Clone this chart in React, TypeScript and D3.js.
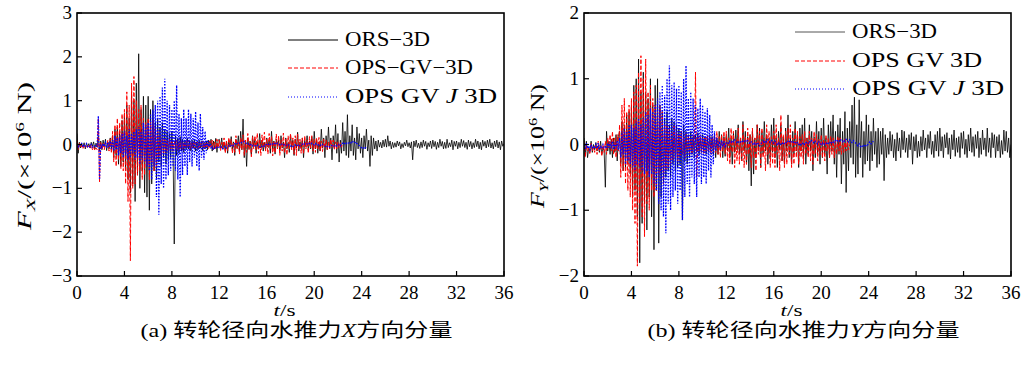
import * as d3 from "d3";

// time step of all series (s)
const dt = 0.1;

const xTicks = [0, 4, 8, 12, 16, 20, 24, 28, 32, 36];
const fxTicks = [3, 2, 1, 0, -1, -2, -3];
const fyTicks = [2, 1, 0, -1, -2];

// ---------- (a) Fx, ×10^6 N ----------
const fxORS = [
  0.25,-0.2,0.05,-0.08,0.02,-0.06,0.04,-0.1,0.03,-0.05,
  0.02,-0.08,0.05,-0.04,0.06,-0.1,0.03,-0.06,0.2,-0.15,
  0.08,-0.12,0.1,-0.05,0.12,-0.14,0.06,-0.1,0.15,-0.12,
  0.2,-0.3,0.35,-0.25,0.4,-0.45,0.3,-0.5,0.55,-0.4,
  0.7,-0.6,0.9,-0.8,0.6,-1.1,1.2,-0.9,1.0,-1.3,
  1.4,-0.7,2.07,-1.0,0.8,-0.6,1.1,-1.1,0.9,-1.2,
  1.1,-1.5,0.8,-0.9,1.0,-0.6,0.5,-0.8,0.6,-0.4,
  0.4,-0.5,0.5,-0.3,0.35,-0.45,0.3,-0.35,0.25,-0.3,
  0.3,-0.2,-2.27,0.2,-0.25,0.15,-0.2,0.18,-0.15,0.12,
  -0.18,0.1,-0.12,0.15,-0.1,0.08,-0.15,0.1,-0.08,0.12,
  -0.15,0.06,-0.12,0.1,-0.08,0.07,-0.14,0.05,-0.1,0.08,
  -0.12,0.1,-0.06,0.12,-0.15,0.08,-0.1,0.14,-0.18,0.1,
  0.12,-0.08,0.15,-0.1,0.05,-0.14,0.08,-0.2,0.1,-0.06,
  0.18,-0.1,0.06,-0.25,0.12,-0.08,0.2,-0.15,0.3,-0.12,
  0.58,-0.3,0.1,-0.5,0.15,-0.1,0.08,-0.25,0.2,-0.05,
  0.12,-0.2,0.06,-0.1,0.25,-0.08,0.1,-0.15,0.05,-0.12,
  0.15,-0.06,0.1,-0.2,0.3,-0.1,0.08,-0.22,0.12,-0.04,
  0.1,-0.15,0.2,-0.08,0.06,-0.3,0.15,-0.1,0.05,-0.18,
  0.22,-0.06,0.1,-0.25,0.12,-0.08,0.28,-0.15,0.06,-0.1,
  0.15,-0.3,0.1,-0.05,0.2,-0.12,0.08,-0.1,0.18,-0.22,
  0.3,-0.1,0.12,-0.2,0.06,-0.15,0.35,-0.08,0.15,-0.3,
  0.2,-0.12,0.4,-0.1,0.15,-0.35,0.2,-0.1,0.45,-0.2,
  0.25,-0.4,0.1,-0.2,0.5,-0.15,0.3,-0.25,0.68,-0.3,
  0.2,-0.15,0.45,-0.25,0.15,-0.35,0.4,-0.1,0.25,-0.2,
  0.15,-0.3,0.2,-0.1,0.35,-0.15,0.1,-0.5,0.2,-0.25,
  0.15,-0.1,0.08,-0.15,0.1,-0.06,0.05,-0.08,0.1,-0.05,
  0.12,-0.06,0.2,-0.04,0.08,-0.1,0.05,-0.07,0.04,-0.06,
  0.08,-0.03,0.06,-0.1,0.02,-0.07,0.05,-0.03,0.1,-0.05,
  0.04,-0.08,0.06,-0.35,0.08,-0.05,0.1,-0.07,0.03,-0.09,
  0.06,-0.07,0.1,-0.04,0.07,-0.11,0.04,-0.05,0.08,-0.09,
  0.1,-0.05,0.07,-0.11,0.05,-0.07,0.12,-0.04,0.07,-0.1,
  0.05,-0.09,0.12,-0.07,0.04,-0.05,0.1,-0.12,0.07,-0.04,
  0.08,-0.1,0.05,-0.07,0.12,-0.04,0.09,-0.07,0.05,-0.11,
  0.1,-0.05,0.07,-0.1,0.04,-0.07,0.12,-0.05,0.08,-0.1,
  0.05,-0.12,0.1,-0.04,0.07,-0.08,0.1,-0.05,0.12,-0.08,
  0.04,-0.1,0.08,-0.05,0.1,-0.08,0.06,-0.12,0.08,-0.04,0.02,
];

const fxOPSGV = [
  0.1,-0.12,0.05,-0.08,-0.02,-0.1,0.0,-0.06,-0.04,-0.08,
  -0.02,-0.1,0.0,-0.12,-0.05,-0.14,-0.08,-0.12,0.6,-0.85,
  0.05,-0.1,0.02,-0.12,0.05,-0.08,0.1,-0.15,0.12,-0.2,
  0.3,-0.4,0.45,-0.5,0.6,-0.35,0.5,-0.55,0.7,-0.6,
  0.8,-0.9,1.2,-1.3,0.9,-2.65,1.4,-1.0,1.55,-0.9,
  1.0,-0.7,0.8,-0.6,0.9,-0.8,0.6,-0.7,0.5,-0.5,
  0.6,-0.8,0.5,-0.4,0.55,-0.6,0.4,-0.5,0.3,-0.3,
  0.2,-0.25,0.15,-0.2,0.12,-0.18,0.1,-0.15,0.12,-0.1,
  0.1,-0.15,0.08,-0.12,0.1,-0.14,0.06,-0.1,0.08,-0.12,
  0.05,-0.1,0.08,-0.06,0.1,-0.12,0.04,-0.08,0.06,-0.1,
  0.05,-0.08,0.06,-0.1,0.04,-0.06,0.08,-0.1,0.05,-0.07,
  0.06,-0.1,0.08,-0.06,0.1,-0.12,0.06,-0.1,0.12,-0.08,
  0.1,-0.15,0.05,-0.1,0.15,-0.2,0.08,-0.14,0.16,-0.05,
  0.12,-0.2,0.05,-0.18,0.2,-0.1,0.08,-0.22,0.15,-0.12,
  0.22,-0.25,0.1,-0.18,0.25,-0.12,0.08,-0.28,0.18,-0.1,
  0.2,-0.12,0.26,-0.2,0.1,-0.25,0.22,-0.08,0.28,-0.15,
  0.12,-0.22,0.25,-0.1,0.18,-0.26,0.08,-0.2,0.24,-0.1,
  0.2,-0.25,0.1,-0.15,0.26,-0.2,0.12,-0.24,0.2,-0.1,
  0.25,-0.12,0.15,-0.22,0.2,-0.25,0.24,-0.1,0.12,-0.2,
  0.15,-0.22,0.2,-0.1,0.1,-0.2,0.18,-0.08,0.2,-0.15,
  0.12,-0.18,0.15,-0.1,0.16,-0.15,0.08,-0.16,0.12,-0.08,
  0.1,-0.12,0.06,-0.1,0.12,-0.06,0.1,-0.12,0.06,-0.1,
  0.06,-0.08,0.04,-0.06,0.03,
];

const fxOPSGVJ = [
  0.02,-0.05,0.0,-0.03,0.02,-0.06,0.0,-0.04,0.02,-0.05,
  -0.02,-0.05,0.0,-0.06,-0.02,-0.05,-0.03,-0.04,0.65,-0.8,
  0.0,-0.06,0.02,-0.05,0.04,-0.08,0.05,-0.06,0.08,-0.1,
  0.1,-0.15,0.2,-0.12,0.15,-0.25,0.2,-0.2,0.25,-0.3,
  0.3,-0.25,0.2,-0.35,0.35,-0.3,0.25,-0.2,0.3,-0.35,
  0.35,-0.3,0.4,-0.45,0.3,-0.35,0.5,-0.4,0.45,-0.5,
  0.5,-0.6,0.7,-0.8,0.8,-0.5,0.9,-1.2,1.0,-1.6,
  1.1,-0.9,1.3,-1.0,1.5,-0.8,1.0,-0.7,0.9,-0.6,
  0.8,-0.5,1.0,-0.6,1.35,-0.8,0.7,-1.2,0.6,-0.7,
  0.8,-0.5,0.6,-0.7,0.8,-0.4,0.7,-0.5,0.6,-0.3,
  0.75,-0.5,0.5,-0.6,0.7,-0.3,0.4,-0.35,0.3,-0.2,
  0.1,-0.05,0.05,-0.1,-0.05,-0.12,-0.08,-0.1,-0.06,-0.08,
  -0.06,-0.08,-0.05,-0.1,-0.07,-0.04,-0.08,-0.06,-0.03,-0.05,
  -0.02,0.0,-0.03,0.02,0.04,0.02,0.05,0.03,0.06,0.04,
  0.05,0.07,0.04,0.02,0.03,0.0,-0.02,0.01,-0.03,-0.01,
  -0.03,-0.05,-0.02,-0.04,-0.06,-0.03,-0.05,-0.02,-0.04,-0.01,
  0.0,-0.02,0.02,0.0,0.03,0.01,0.04,0.02,0.0,0.03,
  0.01,-0.01,0.02,0.0,-0.02,0.01,-0.01,-0.03,0.0,-0.02,
  -0.04,-0.02,-0.05,-0.03,-0.01,-0.04,-0.02,0.0,-0.03,-0.01,
  0.01,-0.01,0.02,0.03,0.01,0.04,0.02,0.0,0.03,0.01,
  -0.01,0.02,0.0,-0.02,0.01,-0.01,-0.03,0.0,-0.02,-0.04,
  -0.02,-0.05,-0.03,-0.06,-0.04,-0.02,-0.05,-0.03,-0.01,-0.04,
  -0.02,0.0,-0.03,0.01,0.03,0.0,0.04,0.02,0.05,0.03,
  0.06,0.04,0.08,0.05,0.03,0.06,0.02,0.0,-0.03,-0.05,
  -0.08,-0.1,-0.06,-0.08,-0.05,
];

// ---------- (b) Fy, ×10^6 N ----------
const fyORS = [
  0.1,-0.15,0.05,-0.2,-0.05,-0.1,0.05,-0.12,0.0,-0.08,
  0.03,-0.1,-0.02,-0.12,0.05,-0.15,-0.05,-0.1,-0.65,0.2,
  -0.1,0.05,-0.15,0.08,-0.2,0.1,-0.12,0.15,-0.25,0.12,
  0.2,-0.3,0.35,-0.4,0.3,-0.35,0.45,-0.3,0.5,-0.45,
  0.6,-0.8,0.9,-0.7,1.0,-1.1,1.3,-1.8,0.8,-1.2,
  1.1,-0.9,0.8,-1.3,0.7,-0.8,1.0,-1.1,0.6,-1.6,
  0.9,-0.7,1.0,-1.5,0.6,-0.8,0.5,-0.6,0.4,-0.5,
  0.5,-0.4,0.3,-0.5,0.4,-0.3,0.35,-0.4,0.3,-0.35,
  0.25,-0.3,0.2,-1.15,0.3,-0.25,0.2,-0.3,0.15,-0.2,
  0.2,-0.15,0.12,-0.2,0.15,-0.1,0.18,-0.15,0.1,-0.12,
  0.15,-0.1,0.12,-0.15,0.1,-0.12,0.14,-0.08,0.12,-0.15,
  0.15,-0.2,0.1,-0.15,0.2,-0.1,0.15,-0.2,0.12,-0.18,
  0.15,-0.1,0.25,-0.2,0.1,-0.3,0.18,-0.12,0.22,-0.08,
  0.3,-0.15,0.1,-0.25,0.35,-0.1,0.2,-0.3,0.12,-0.4,
  0.15,-0.63,0.2,-0.45,0.1,-0.2,0.3,-0.1,0.25,-0.35,
  0.2,-0.15,0.35,-0.1,0.15,-0.3,0.1,-0.2,0.3,-0.12,
  0.4,-0.2,0.1,-0.35,0.2,-0.08,0.3,-0.25,0.12,-0.3,
  0.25,-0.1,0.45,-0.2,0.1,-0.3,0.2,-0.15,0.35,-0.1,
  0.15,-0.35,0.25,-0.1,0.3,-0.2,0.4,-0.3,0.1,-0.15,
  0.3,-0.1,0.2,-0.4,0.12,-0.2,0.35,-0.15,0.2,-0.3,
  0.25,-0.2,0.4,-0.15,0.1,-0.45,0.3,-0.2,0.35,-0.1,
  0.45,-0.3,0.2,-0.5,0.3,-0.15,0.4,-0.6,0.2,-0.3,
  0.5,-0.73,0.25,-0.4,0.35,-0.2,0.6,-0.3,0.72,-0.5,
  0.3,-0.45,0.68,-0.2,0.35,-0.5,0.2,-0.3,0.45,-0.25,
  0.3,-0.4,0.2,-0.25,0.4,-0.15,0.2,-0.35,0.25,-0.3,
  0.2,-0.15,0.25,-0.55,0.15,-0.2,0.1,-0.15,0.2,-0.1,
  0.15,-0.2,0.08,-0.25,0.18,-0.1,0.1,-0.2,0.22,-0.08,
  0.2,-0.12,0.1,-0.2,0.15,-0.08,0.18,-0.3,0.12,-0.1,
  0.15,-0.2,0.05,-0.18,0.12,-0.1,0.22,-0.08,0.1,-0.2,
  0.15,-0.06,0.2,-0.15,0.05,-0.2,0.15,-0.1,0.2,-0.18,
  0.25,-0.1,0.12,-0.2,0.15,-0.05,0.18,-0.15,0.1,-0.22,
  0.15,-0.08,0.22,-0.18,0.1,-0.12,0.12,-0.2,0.18,-0.06,
  0.2,-0.15,0.08,-0.2,0.15,-0.1,0.25,-0.12,0.12,-0.18,
  0.15,-0.06,0.2,-0.2,0.1,-0.15,0.22,-0.08,0.1,-0.18,
  0.25,-0.12,0.1,-0.2,0.18,-0.05,0.15,-0.2,0.12,-0.1,
  0.15,-0.2,0.06,-0.15,0.22,-0.1,0.2,-0.12,0.1,-0.2,0.0,
];

const fyOPSGV = [
  0.05,-0.2,0.0,-0.1,-0.05,-0.15,0.02,-0.1,-0.05,-0.12,
  0.0,-0.15,0.05,-0.1,-0.02,-0.18,0.0,-0.12,0.05,-0.15,
  0.1,-0.05,0.15,-0.1,0.2,-0.15,0.1,-0.2,0.15,-0.1,
  0.3,-0.5,0.6,-0.4,0.7,-0.6,0.5,-0.7,0.6,-0.8,
  0.7,-1.0,0.8,-1.2,0.9,-1.85,1.1,-0.9,1.35,-1.1,
  1.0,-1.4,1.3,-0.9,0.8,-1.0,0.9,-0.7,0.7,-0.8,
  0.6,-0.7,0.5,-0.5,0.6,-0.4,0.5,-0.6,0.3,-0.4,
  0.3,-0.35,0.25,-0.3,0.2,-0.25,0.3,-0.2,0.2,-0.25,
  0.15,-0.2,0.2,-0.15,0.12,-0.2,0.15,-0.1,0.12,-0.15,
  0.1,-0.15,0.15,-0.1,1.1,-0.5,0.12,-0.1,0.15,-0.12,
  0.1,-0.15,0.12,-0.1,0.15,-0.12,0.1,-0.15,0.12,-0.1,
  0.15,-0.12,0.2,-0.15,0.12,-0.2,0.15,-0.1,0.2,-0.15,
  0.2,-0.25,0.1,-0.3,0.25,-0.12,0.2,-0.35,0.08,-0.25,
  0.25,-0.3,0.1,-0.25,0.3,-0.35,0.12,-0.3,0.25,-0.15,
  0.15,-0.35,0.25,-0.2,0.1,-0.4,0.3,-0.15,0.2,-0.35,
  0.25,-0.2,0.1,-0.4,0.3,-0.15,0.2,-0.35,0.12,-0.3,
  0.2,-0.35,0.3,-0.15,0.1,-0.4,0.45,-0.25,0.15,-0.35,
  0.2,-0.3,0.25,-0.15,0.3,-0.35,0.1,-0.3,0.25,-0.2,
  0.2,-0.3,0.12,-0.2,0.15,-0.3,0.2,-0.15,0.1,-0.2,
  0.2,-0.25,0.1,-0.3,0.2,-0.15,0.15,-0.25,0.08,-0.15,
  0.15,-0.2,0.08,-0.25,0.15,-0.1,0.1,-0.2,0.12,-0.15,
  0.1,-0.2,0.06,-0.15,0.12,-0.1,0.1,-0.15,0.05,-0.12,
  0.08,-0.1,0.05,-0.08,0.0,
];

const fyOPSGVJ = [
  0.0,-0.08,0.02,-0.06,-0.02,-0.08,0.0,-0.05,-0.02,-0.06,
  0.0,-0.06,0.02,-0.08,-0.02,-0.06,0.0,-0.05,-0.03,-0.06,
  0.02,-0.05,0.04,-0.06,0.05,-0.08,0.03,-0.06,0.06,-0.08,
  0.1,-0.2,0.2,-0.15,0.25,-0.3,0.2,-0.25,0.3,-0.3,
  0.3,-0.35,0.25,-0.4,0.35,-0.3,0.4,-0.35,0.3,-0.4,
  0.4,-0.45,0.5,-0.4,0.45,-0.5,0.55,-0.45,0.5,-0.6,
  0.6,-0.7,0.7,-0.9,0.8,-1.0,0.9,-1.1,0.75,-1.35,
  1.0,-0.9,1.2,-1.0,0.9,-0.8,0.95,-0.7,0.85,-0.9,
  0.9,-0.7,0.8,-1.15,1.0,-0.8,1.2,-0.6,0.7,-0.8,
  0.8,-0.5,0.7,-0.6,0.6,-0.8,0.55,-0.5,0.7,-0.6,
  0.6,-0.5,0.5,-0.6,0.55,-0.4,0.45,-0.5,0.3,-0.3,
  0.2,-0.1,0.1,-0.05,0.05,-0.08,0.06,-0.03,0.05,-0.05,
  0.02,0.04,0.01,0.05,0.03,0.06,0.04,0.07,0.05,0.03,
  0.05,0.02,0.04,0.06,0.03,0.05,0.07,0.04,0.06,0.03,
  0.01,0.04,0.02,-0.01,0.02,0.0,0.03,0.01,-0.02,0.01,
  0.03,0.05,0.02,0.06,0.04,0.07,0.05,0.03,0.06,0.04,
  0.02,0.05,0.03,0.0,0.02,-0.01,0.01,0.03,0.0,0.02,
  0.04,0.02,0.05,0.03,0.06,0.04,0.02,0.05,0.03,0.01,
  0.03,0.0,0.02,-0.01,0.01,0.03,0.0,0.02,0.04,0.02,
  0.05,0.03,0.06,0.04,0.02,0.05,0.03,0.01,0.04,0.02,
  0.0,0.02,-0.01,0.01,0.03,0.0,0.02,0.04,0.01,0.03,
  0.05,0.03,0.06,0.04,0.07,0.05,0.08,0.06,0.04,0.07,
  0.05,0.08,0.06,0.04,0.07,0.05,0.03,0.06,0.04,0.02,
  0.0,-0.02,0.01,-0.03,-0.01,-0.04,-0.02,0.0,-0.03,-0.01,
  0.02,0.04,0.01,0.03,0.05,
];

const SERIF = "'Liberation Serif', 'Times New Roman', 'Noto Sans CJK SC', serif";

const fmt = (v: number) => (v < 0 ? "\u2212" + Math.abs(v) : String(v));

function Panel({left, right, yMax, yTicks, series, axisLetter, legend, tag, legendY, yTitleX, yTitleY, yTitleLen}) {
  const top = 13, bottom = 276;
  const x = d3.scaleLinear().domain([0, 36]).range([left, right]);
  const y = d3.scaleLinear().domain([-yMax, yMax]).range([bottom, top]);
  const line = d3.line<number>().x((d, i) => x(i * dt)).y(d => y(d));
  const clipId = "clip" + axisLetter;
  const cx = (left + right) / 2;

  return (
    <g fontFamily={SERIF}>
      <defs>
        <clipPath id={clipId}>
          <rect x={left} y={top} width={right - left} height={bottom - top} />
        </clipPath>
      </defs>
      <g clipPath={`url(#${clipId})`}>
        {series.map((s, k) => (
          <path key={k} d={line(s.values)} fill="none" stroke={s.color}
                strokeWidth={s.width} strokeDasharray={s.dash} />
        ))}
      </g>
      <rect x={left} y={top} width={right - left} height={bottom - top}
            fill="none" stroke="#000" strokeWidth={1.6} />
      {xTicks.map(t => (
        <g key={"x" + t}>
          <line x1={x(t)} x2={x(t)} y1={bottom} y2={bottom - 5} stroke="#000" strokeWidth={1.2} />
          <text x={x(t)} y={299} textAnchor="middle" fontSize={19}>{t}</text>
        </g>
      ))}
      {yTicks.map(t => (
        <g key={"y" + t}>
          <line x1={left} x2={left + 5} y1={y(t)} y2={y(t)} stroke="#000" strokeWidth={1.2} />
          <text x={left - 5} y={y(t) + 6} textAnchor="end" fontSize={19}>{fmt(t)}</text>
        </g>
      ))}
      <text x={cx - 6} y={316} textAnchor="middle" fontSize={17}
            textLength={22} lengthAdjust="spacingAndGlyphs">
        <tspan fontStyle="italic">t</tspan>/s
      </text>
      <text x={cx + 6} y={337} textAnchor="middle" fontSize={19}
            textLength={312} lengthAdjust="spacingAndGlyphs">
        {tag} 转轮径向水推力<tspan fontStyle="italic">{axisLetter}</tspan>方向分量
      </text>
      <text transform={`translate(${yTitleX},${yTitleY}) rotate(-90)`} textAnchor="middle" fontSize={19}
            textLength={yTitleLen} lengthAdjust="spacingAndGlyphs">
        <tspan fontStyle="italic">F</tspan>
        <tspan fontStyle="italic" fontSize={13} dy={4}>{axisLetter}</tspan>
        <tspan dy={-4}>/(×10</tspan>
        <tspan fontSize={12} dy={-7}>6</tspan>
        <tspan dy={7}> N)</tspan>
      </text>
      {legend.map((l, k) => (
        <g key={"l" + k}>
          <line x1={right - 216} x2={right - 166} y1={legendY[k]} y2={legendY[k]}
                stroke={l.color} strokeWidth={1} strokeDasharray={l.dash} />
          <text x={right - 159} y={legendY[k] + 6} fontSize={20}
                textLength={l.len} lengthAdjust="spacingAndGlyphs">
            {l.parts.map((p, j) => (
              <tspan key={j} fontStyle={p.italic ? "italic" : "normal"}>{p.text}</tspan>
            ))}
          </text>
        </g>
      ))}
    </g>
  );
}

export default function App() {
  const dashRed = "4,2";
  const dotBlue = "1.5,1.5";
  const seriesX = [
    {values: fxORS, color: "#000", width: 0.8, dash: undefined},
    {values: fxOPSGV, color: "#ff0000", width: 1, dash: dashRed},
    {values: fxOPSGVJ, color: "#0000ff", width: 1.3, dash: dotBlue},
  ];
  const seriesY = [
    {values: fyORS, color: "#000", width: 0.8, dash: undefined},
    {values: fyOPSGV, color: "#ff0000", width: 1, dash: dashRed},
    {values: fyOPSGVJ, color: "#0000ff", width: 1.3, dash: dotBlue},
  ];
  const legendX = [
    {color: "#000", dash: undefined, len: 85, parts: [{text: "ORS\u22123D"}]},
    {color: "#ff0000", dash: "4,2", len: 128, parts: [{text: "OPS\u2212GV\u22123D"}]},
    {color: "#0000ff", dash: "1,2", len: 152, parts: [{text: "OPS  GV  "}, {text: "J", italic: true}, {text: "  3D"}]},
  ];
  const legendY = [
    {color: "#555", dash: undefined, len: 85, parts: [{text: "ORS\u22123D"}]},
    {color: "#ff0000", dash: "4,2", len: 130, parts: [{text: "OPS  GV  3D"}]},
    {color: "#0000ff", dash: "1,2", len: 152, parts: [{text: "OPS  GV  "}, {text: "J", italic: true}, {text: "  3D"}]},
  ];

  return (
    <svg width={1024} height={367} style={{position: "absolute", left: 0, top: 0, background: "#fff"}}>
      <Panel left={77} right={504} yMax={3} yTicks={fxTicks} series={seriesX}
             axisLetter="X" legend={legendX} tag="(a)" legendY={[40, 68, 97]}
             yTitleX={31} yTitleY={156} yTitleLen={148} />
      <Panel left={584} right={1011} yMax={2} yTicks={fyTicks} series={seriesY}
             axisLetter="Y" legend={legendY} tag="(b)" legendY={[32, 61, 89]}
             yTitleX={544} yTitleY={146} yTitleLen={124} />
    </svg>
  );
}
